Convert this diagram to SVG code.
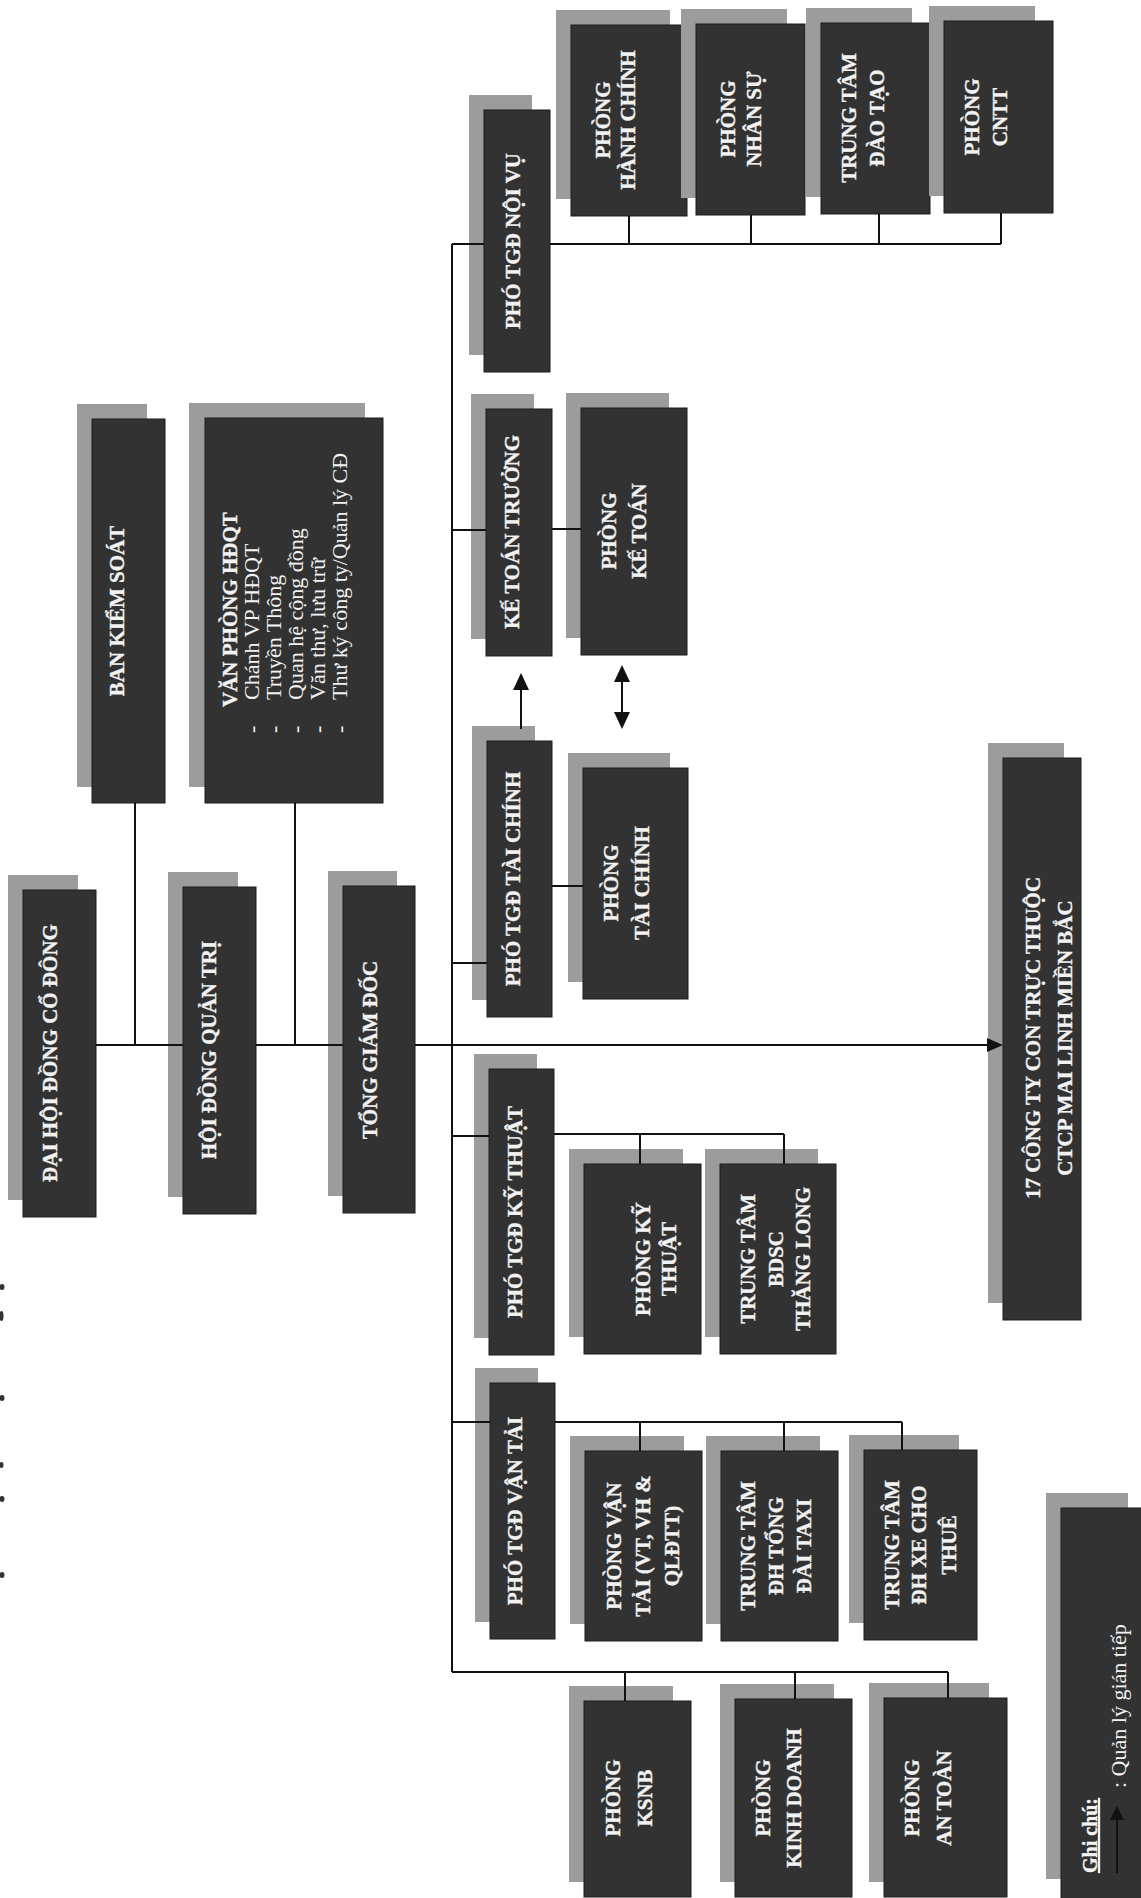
<svg xmlns="http://www.w3.org/2000/svg" width="1141" height="1898" viewBox="0 0 1141 1898">
<style>
.bg{fill:#ffffff}
.sh{fill:#9c9c9c}
.bx{fill:#323232;stroke:#1c1c1c;stroke-width:1}
.t{font-family:"Liberation Serif","Times New Roman",serif;font-weight:bold;font-size:21px;fill:#f2f2f2;stroke:#f2f2f2;stroke-width:0.35;text-anchor:middle}
.ts{font-family:"Liberation Serif","Times New Roman",serif;font-weight:bold;font-size:21px;fill:#f2f2f2;stroke:#f2f2f2;stroke-width:0.35;text-anchor:start}
.tr{font-family:"Liberation Serif","Times New Roman",serif;font-size:22px;fill:#f2f2f2;text-anchor:start}
.ln{fill:none;stroke:#111;stroke-width:2}
.ah{fill:#111}
.frag{fill:#333}
</style>
<rect class="bg" x="0" y="0" width="1141" height="1898"/>

<!-- stray fragments at the left edge -->
<g id="edge-fragments">
<ellipse class="frag" cx="2" cy="1287" rx="2.5" ry="3"/>
<ellipse class="frag" cx="1.5" cy="1316" rx="2" ry="5"/>
<ellipse class="frag" cx="2" cy="1398" rx="2.5" ry="3"/>
<ellipse class="frag" cx="1.5" cy="1465" rx="2" ry="3"/>
<ellipse class="frag" cx="2" cy="1499" rx="2.5" ry="3"/>
<ellipse class="frag" cx="2" cy="1575" rx="2.5" ry="3"/>
</g>

<g id="n-dhdcd">
<rect class="sh" x="8" y="875" width="70" height="325"/>
<rect class="bx" x="23" y="890" width="73" height="327"/>
<text class="t" transform="translate(57,1053) rotate(-90)">ĐẠI HỘI ĐỒNG CỔ ĐÔNG</text>
</g>
<g id="n-hdqt">
<rect class="sh" x="168" y="872" width="70" height="325"/>
<rect class="bx" x="183" y="887" width="73" height="327"/>
<text class="t" transform="translate(216,1050) rotate(-90)">HỘI ĐỒNG QUẢN TRỊ</text>
</g>
<g id="n-tgd">
<rect class="sh" x="328" y="871" width="69" height="325"/>
<rect class="bx" x="343" y="886" width="72" height="327"/>
<text class="t" transform="translate(377,1050) rotate(-90)">TỔNG GIÁM ĐỐC</text>
</g>
<g id="n-bks">
<rect class="sh" x="77" y="404" width="70" height="383"/>
<rect class="bx" x="92" y="419" width="73" height="384"/>
<text class="t" transform="translate(124,611) rotate(-90)">BAN KIỂM SOÁT</text>
</g>
<g id="n-vphdqt">
<rect class="sh" x="189" y="403" width="176" height="384"/>
<rect class="bx" x="205" y="418" width="178" height="385"/>
<text class="ts" transform="translate(0,707) rotate(-90)"><tspan x="0" y="237">VĂN PHÒNG HĐQT</tspan></text>
<text class="tr" transform="translate(0,733) rotate(-90)"><tspan x="0" y="259">-</tspan><tspan x="0" y="281">-</tspan><tspan x="0" y="303">-</tspan><tspan x="0" y="325">-</tspan><tspan x="0" y="347">-</tspan></text>
<text class="tr" transform="translate(0,700) rotate(-90)"><tspan x="0" y="259">Chánh VP HĐQT</tspan><tspan x="0" y="281">Truyền Thông</tspan><tspan x="0" y="303">Quan hệ cộng đồng</tspan><tspan x="0" y="325">Văn thư, lưu trữ</tspan><tspan x="0" y="347">Thư ký công ty/Quản lý CĐ</tspan></text>
</g>
<g id="n-ptgd-noivu">
<rect class="sh" x="469" y="95" width="63" height="260"/>
<rect class="bx" x="484" y="110" width="66" height="262"/>
<text class="t" transform="translate(520,241) rotate(-90)">PHÓ TGĐ NỘI VỤ</text>
</g>
<g id="n-ktt">
<rect class="sh" x="471" y="394" width="63" height="245"/>
<rect class="bx" x="486" y="409" width="66" height="247"/>
<text class="t" transform="translate(519,532) rotate(-90)">KẾ TOÁN TRƯỞNG</text>
</g>
<g id="n-ptgd-taichinh">
<rect class="sh" x="472" y="726" width="63" height="274"/>
<rect class="bx" x="487" y="741" width="65" height="276"/>
<text class="t" transform="translate(520,879) rotate(-90)">PHÓ TGĐ TÀI CHÍNH</text>
</g>
<g id="n-ptgd-kythuat">
<rect class="sh" x="474" y="1054" width="63" height="284"/>
<rect class="bx" x="489" y="1069" width="65" height="286"/>
<text class="t" transform="translate(522,1212) rotate(-90)">PHÓ TGĐ KỸ THUẬT</text>
</g>
<g id="n-ptgd-vantai">
<rect class="sh" x="475" y="1368" width="63" height="254"/>
<rect class="bx" x="490" y="1383" width="65" height="256"/>
<text class="t" transform="translate(522,1511) rotate(-90)">PHÓ TGĐ VẬN TẢI</text>
</g>
<g id="n-p-hanhchinh">
<rect class="sh" x="556" y="10" width="114" height="189"/>
<rect class="bx" x="571" y="25" width="116" height="191"/>
<text class="t" transform="translate(0,120) rotate(-90)"><tspan x="0" y="610">PHÒNG</tspan><tspan x="0" y="635">HÀNH CHÍNH</tspan></text>
</g>
<g id="n-p-nhansu">
<rect class="sh" x="681" y="9" width="106" height="189"/>
<rect class="bx" x="696" y="24" width="109" height="191"/>
<text class="t" transform="translate(0,119) rotate(-90)"><tspan x="0" y="735">PHÒNG</tspan><tspan x="0" y="761">NHÂN SỰ</tspan></text>
</g>
<g id="n-tt-daotao">
<rect class="sh" x="806" y="8" width="106" height="189"/>
<rect class="bx" x="821" y="23" width="109" height="191"/>
<text class="t" transform="translate(0,118) rotate(-90)"><tspan x="0" y="856">TRUNG TÂM</tspan><tspan x="0" y="884">ĐÀO TẠO</tspan></text>
</g>
<g id="n-p-cntt">
<rect class="sh" x="929" y="6" width="106" height="190"/>
<rect class="bx" x="944" y="21" width="109" height="192"/>
<text class="t" transform="translate(0,117) rotate(-90)"><tspan x="0" y="979">PHÒNG</tspan><tspan x="0" y="1007">CNTT</tspan></text>
</g>
<g id="n-p-ketoan">
<rect class="sh" x="566" y="393" width="103" height="245"/>
<rect class="bx" x="581" y="408" width="106" height="247"/>
<text class="t" transform="translate(0,531) rotate(-90)"><tspan x="0" y="616">PHÒNG</tspan><tspan x="0" y="646">KẾ TOÁN</tspan></text>
</g>
<g id="n-p-taichinh">
<rect class="sh" x="568" y="753" width="102" height="229"/>
<rect class="bx" x="583" y="768" width="105" height="231"/>
<text class="t" transform="translate(0,883) rotate(-90)"><tspan x="0" y="618">PHÒNG</tspan><tspan x="0" y="649">TÀI CHÍNH</tspan></text>
</g>
<g id="n-17cty">
<rect class="sh" x="988" y="743" width="76" height="560"/>
<rect class="bx" x="1003" y="758" width="78" height="562"/>
<text class="t" transform="translate(0,1038) rotate(-90)"><tspan x="0" y="1040">17 CÔNG TY CON TRỰC THUỘC</tspan><tspan x="0" y="1072">CTCP MAI LINH MIỀN BẮC</tspan></text>
</g>
<g id="n-p-kythuat">
<rect class="sh" x="569" y="1149" width="114" height="188"/>
<rect class="bx" x="584" y="1164" width="117" height="190"/>
<text class="t" transform="translate(0,1259) rotate(-90)"><tspan x="0" y="650">PHÒNG KỸ</tspan><tspan x="0" y="676">THUẬT</tspan></text>
</g>
<g id="n-tt-bdsc">
<rect class="sh" x="705" y="1149" width="113" height="188"/>
<rect class="bx" x="720" y="1164" width="116" height="190"/>
<text class="t" transform="translate(0,1259) rotate(-90)"><tspan x="0" y="755">TRUNG TÂM</tspan><tspan x="0" y="783">BDSC</tspan><tspan x="0" y="810">THĂNG LONG</tspan></text>
</g>
<g id="n-p-vantai">
<rect class="sh" x="570" y="1436" width="114" height="188"/>
<rect class="bx" x="585" y="1451" width="117" height="190"/>
<text class="t" transform="translate(0,1546) rotate(-90)"><tspan x="0" y="621">PHÒNG VẬN</tspan><tspan x="0" y="650">TẢI (VT, VH &amp;</tspan><tspan x="0" y="679">QLĐTT)</tspan></text>
</g>
<g id="n-tt-taxi">
<rect class="sh" x="706" y="1436" width="114" height="188"/>
<rect class="bx" x="721" y="1451" width="117" height="190"/>
<text class="t" transform="translate(0,1546) rotate(-90)"><tspan x="0" y="755">TRUNG TÂM</tspan><tspan x="0" y="783">ĐH TỔNG</tspan><tspan x="0" y="811">ĐÀI TAXI</tspan></text>
</g>
<g id="n-tt-xe">
<rect class="sh" x="849" y="1435" width="110" height="188"/>
<rect class="bx" x="864" y="1450" width="113" height="190"/>
<text class="t" transform="translate(0,1545) rotate(-90)"><tspan x="0" y="899">TRUNG TÂM</tspan><tspan x="0" y="926">ĐH XE CHO</tspan><tspan x="0" y="956">THUÊ</tspan></text>
</g>
<g id="n-p-ksnb">
<rect class="sh" x="569" y="1686" width="104" height="196"/>
<rect class="bx" x="584" y="1701" width="107" height="196"/>
<text class="t" transform="translate(0,1798) rotate(-90)"><tspan x="0" y="620">PHÒNG</tspan><tspan x="0" y="652">KSNB</tspan></text>
</g>
<g id="n-p-kinhdoanh">
<rect class="sh" x="720" y="1684" width="114" height="198"/>
<rect class="bx" x="735" y="1699" width="117" height="198"/>
<text class="t" transform="translate(0,1798) rotate(-90)"><tspan x="0" y="770">PHÒNG</tspan><tspan x="0" y="801">KINH DOANH</tspan></text>
</g>
<g id="n-p-antoan">
<rect class="sh" x="869" y="1683" width="120" height="199"/>
<rect class="bx" x="884" y="1698" width="123" height="199"/>
<text class="t" transform="translate(0,1798) rotate(-90)"><tspan x="0" y="919">PHÒNG</tspan><tspan x="0" y="951">AN TOÀN</tspan></text>
</g>
<g id="n-legend">
<rect class="sh" x="1046" y="1493" width="82" height="386"/>
<rect class="bx" x="1061" y="1508" width="90" height="400"/>
<text class="ts" style="font-size:20px;text-decoration:underline" transform="translate(0,1873) rotate(-90)"><tspan x="0" y="1097">Ghi chú:</tspan></text>
<path d="M1117,1873 V1818" fill="none" stroke="#111" stroke-width="2"/>
<polygon points="1117,1806 1110,1820 1124,1820" fill="#111"/>
<text class="tr" transform="translate(0,1788) rotate(-90)"><tspan x="0" y="1126">: Quản lý gián tiếp</tspan></text>
</g>

<g id="connectors">
<path class="ln" d="M96,1045 H183 M256,1045 H343 M415,1045 H990"/>
<polygon class="ah" points="1003,1045 987,1038 987,1052"/>
<path class="ln" d="M135,803 V1045 M295,803 V1045"/>
<path class="ln" d="M452,244 V1672"/>
<path class="ln" d="M452,244 H484 M550,244 H1001 M629,244 V216 M751,244 V215 M879,244 V214 M1001,244 V213"/>
<path class="ln" d="M452,530 H486 M552,529 H581"/>
<path class="ln" d="M452,963 H487 M552,886 H583"/>
<path class="ln" d="M452,1136 H489 M554,1134 H784 M640,1134 V1164 M784,1134 V1164"/>
<path class="ln" d="M452,1422 H490 M555,1422 H902 M640,1422 V1451 M784,1422 V1451 M902,1422 V1450"/>
<path class="ln" d="M452,1672 H948 M625,1672 V1701 M795,1672 V1699 M948,1672 V1698"/>
<path class="ln" d="M521,729 V688"/>
<polygon class="ah" points="521,673 513,690 529,690"/>
<path class="ln" d="M622,680 V714"/>
<polygon class="ah" points="622,665 614,682 630,682"/>
<polygon class="ah" points="622,729 614,712 630,712"/>
</g>
</svg>
